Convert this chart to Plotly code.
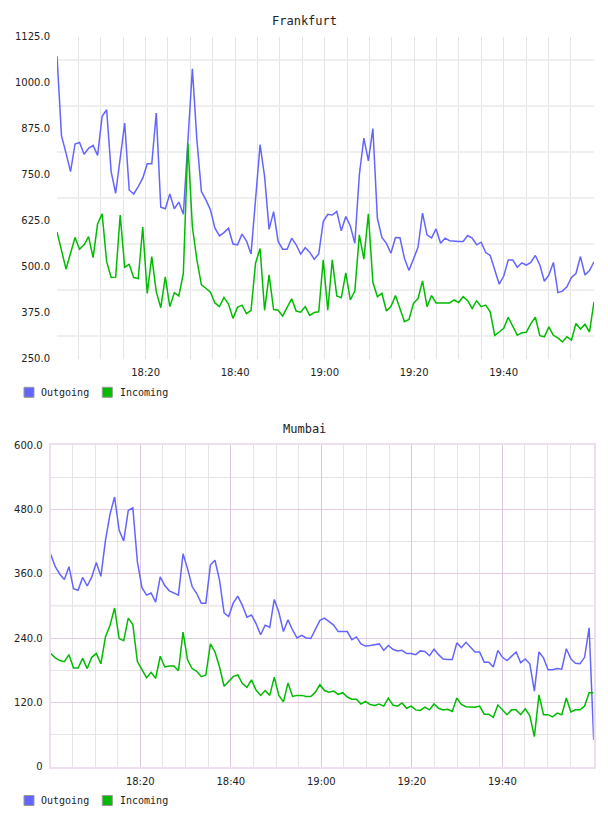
import pandas as pd
import plotly.graph_objects as go

# ---- data -------------------------------------------------------------
times = pd.date_range(start="2024-01-01 18:00:12", periods=120, freq="60500ms")

fra_outgoing = [1071, 855, 808, 758, 833, 837, 805, 821, 829, 802,
                908, 926, 758, 699, 794, 890, 708, 697, 717, 740,
                779, 779, 917, 661, 657, 697, 657, 675, 642, 830,
                1037, 844, 704, 681, 654, 604, 583, 592, 604, 561,
                559, 588, 569, 534, 672, 831, 745, 601, 649, 568,
                547, 547, 577, 559, 534, 551, 539, 520, 534, 622,
                642, 640, 650, 597, 636, 610, 563, 749, 849, 787,
                875, 631, 579, 563, 536, 579, 578, 522, 489, 522,
                552, 645, 586, 578, 602, 563, 577, 570, 568, 568,
                568, 584, 577, 559, 566, 538, 530, 493, 452, 474,
                518, 518, 498, 510, 504, 511, 530, 504, 460, 477,
                511, 429, 433, 445, 470, 481, 527, 477, 489, 513]
fra_incoming = [594, 545, 493, 536, 579, 547, 559, 581, 524, 616,
                643, 513, 470, 471, 640, 498, 506, 470, 467, 607,
                427, 527, 431, 388, 472, 391, 429, 420, 481, 835,
                608, 518, 450, 441, 430, 401, 391, 416, 398, 359,
                389, 395, 372, 381, 509, 549, 381, 477, 383, 381,
                365, 389, 412, 379, 376, 391, 367, 375, 377, 518,
                381, 518, 420, 415, 483, 409, 433, 586, 520, 643,
                457, 418, 427, 379, 391, 421, 386, 350, 356, 400,
                413, 461, 391, 421, 401, 401, 401, 401, 409, 402,
                418, 407, 386, 407, 391, 395, 377, 313, 322, 332,
                362, 336, 313, 320, 321, 345, 362, 312, 309, 336,
                313, 306, 295, 309, 300, 345, 330, 343, 322, 404]
mum_outgoing = [396, 373, 359, 349, 373, 332, 329, 353, 337, 354,
                381, 355, 422, 471, 503, 441, 421, 478, 483, 382,
                334, 320, 324, 307, 354, 338, 328, 324, 320, 397,
                369, 336, 323, 305, 305, 376, 385, 348, 287, 280,
                305, 318, 301, 279, 283, 267, 246, 264, 260, 312,
                288, 252, 274, 255, 240, 245, 240, 239, 256, 273,
                277, 270, 264, 252, 252, 252, 237, 242, 229, 225,
                226, 227, 229, 217, 226, 219, 216, 217, 211, 211,
                209, 216, 215, 207, 219, 209, 201, 200, 200, 231,
                222, 232, 223, 214, 214, 195, 195, 186, 217, 204,
                198, 207, 214, 194, 201, 192, 141, 214, 203, 181,
                181, 183, 182, 220, 201, 193, 192, 204, 259, 50]
mum_incoming = [211, 203, 198, 196, 209, 184, 184, 202, 183, 204,
                211, 192, 242, 264, 296, 239, 235, 277, 265, 196,
                181, 166, 176, 165, 206, 186, 188, 188, 179, 251,
                199, 183, 178, 168, 171, 229, 214, 186, 150, 160,
                168, 171, 155, 148, 162, 143, 133, 142, 133, 167,
                133, 121, 156, 131, 133, 133, 131, 131, 139, 153,
                142, 139, 141, 135, 138, 130, 126, 126, 117, 122,
                116, 114, 117, 113, 128, 115, 113, 119, 109, 113,
                106, 105, 111, 106, 117, 109, 106, 107, 103, 128,
                116, 112, 112, 111, 113, 98, 98, 92, 115, 106,
                97, 106, 106, 97, 108, 95, 56, 134, 97, 97,
                93, 100, 97, 128, 102, 106, 106, 113, 138, 138]

titles = ["Frankfurt", "Mumbai"]
series_names = ["Outgoing", "Incoming"]
x_tick_labels = ["18:20", "18:40", "19:00", "19:20", "19:40"]
fra_y_ticks = [250, 375, 500, 625, 750, 875, 1000, 1125]
fra_y_ticktext = ["250.0", "375.0", "500.0", "625.0", "750.0", "875.0", "1000.0", "1125.0"]
fra_y_minor = [312.5, 437.5, 562.5, 687.5, 812.5, 937.5, 1062.5]
mum_y_ticks = [0, 120, 240, 360, 480, 600]
mum_y_ticktext = ["0", "120.0", "240.0", "360.0", "480.0", "600.0"]
mum_y_minor = [60, 180, 420, 540]

# ---- styling ----------------------------------------------------------
W, H = 608, 816
BLUE = "#6464ff"
GREEN = "#00bb00"
TICKFONT = dict(family="DejaVu Sans", size=10, color="#222222")
MONO = "DejaVu Sans Mono"


def px(x):
    return x / W


def py(y):
    return 1 - y / H


day = "2024-01-01 "
x_major = [pd.Timestamp(day + t) for t in x_tick_labels]
x_minor = [t for t in pd.date_range(day + "18:05", day + "19:55", freq="5min")
           if t not in x_major]
x_range = [times[0], times[-1]]

fig = go.Figure()
fig.add_trace(go.Scatter(x=times, y=fra_outgoing, mode="lines", name=series_names[0],
                         line=dict(color=BLUE, width=1.5), xaxis="x", yaxis="y"))
fig.add_trace(go.Scatter(x=times, y=fra_incoming, mode="lines", name=series_names[1],
                         line=dict(color=GREEN, width=1.5), xaxis="x", yaxis="y"))
fig.add_trace(go.Scatter(x=times, y=mum_outgoing, mode="lines", name=series_names[0],
                         line=dict(color=BLUE, width=1.5), xaxis="x2", yaxis="y2"))
fig.add_trace(go.Scatter(x=times, y=mum_incoming, mode="lines", name=series_names[1],
                         line=dict(color=GREEN, width=1.5), xaxis="x2", yaxis="y2"))

common_x = dict(type="date", range=x_range, tickvals=x_major, ticktext=x_tick_labels,
                tickfont=TICKFONT, ticks="outside", ticklen=4,
                tickcolor="rgba(0,0,0,0)", zeroline=False, fixedrange=True,
                automargin=False)
common_y = dict(tickfont=TICKFONT, ticks="outside", ticklen=4,
                tickcolor="rgba(0,0,0,0)", zeroline=False, fixedrange=True,
                automargin=False)

fig.update_layout(
    width=W, height=H,
    margin=dict(l=0, r=0, t=0, b=0, pad=0),
    paper_bgcolor="white", plot_bgcolor="white",
    showlegend=False,
    xaxis=dict(domain=[px(57), px(594)], anchor="y", showgrid=True,
               gridcolor="#e4e4e4", gridwidth=1,
               minor=dict(tickvals=x_minor, showgrid=True, gridcolor="#e4e4e4",
                          gridwidth=1, ticks=""),
               **common_x),
    yaxis=dict(domain=[py(358.5), py(36.5)], anchor="x", range=[250, 1125],
               tickvals=fra_y_ticks, ticktext=fra_y_ticktext, showgrid=False,
               minor=dict(tickvals=fra_y_minor, showgrid=True, gridcolor="#efefef",
                          gridwidth=2, ticks=""),
               **common_y),
    xaxis2=dict(domain=[px(50.7), px(593.7)], anchor="y2", showgrid=True,
                gridcolor="#dcc6dc", gridwidth=1,
                showline=True, mirror=True, linecolor="#eddfed", linewidth=2,
                minor=dict(tickvals=x_minor, showgrid=True, gridcolor="#e6e3e6",
                           gridwidth=1, ticks=""),
                **common_x),
    yaxis2=dict(domain=[py(766.7), py(445)], anchor="x2", range=[0, 600],
                tickvals=mum_y_ticks, ticktext=mum_y_ticktext, showgrid=True,
                gridcolor="#e2cae2", gridwidth=1,
                showline=True, mirror=True, linecolor="#eddfed", linewidth=2,
                minor=dict(tickvals=mum_y_minor, showgrid=True, gridcolor="#e6e3e6",
                           gridwidth=1, ticks=""),
                **common_y),
)

# thicker mid line at 300 in the Mumbai chart
fig.add_shape(type="line", xref="x2 domain", yref="y2", x0=0, x1=1, y0=300, y1=300,
              line=dict(color="#ececec", width=2), layer="below")

# titles
for title, yc in zip(titles, [20.5, 428.7]):
    fig.add_annotation(text=title, xref="paper", yref="paper", x=px(304), y=py(yc),
                       xanchor="center", yanchor="middle", showarrow=False,
                       font=dict(family=MONO, size=12, color="#222222"))

# legends (boxes + labels)
for yc in [392.3, 800.5]:
    for (bx, color, label, tx) in [(24, BLUE, series_names[0], 39),
                                   (102.3, GREEN, series_names[1], 118)]:
        fig.add_shape(type="rect", xref="paper", yref="paper",
                      x0=px(bx), x1=px(bx + 10), y0=py(yc + 5), y1=py(yc - 5),
                      fillcolor=color, line=dict(color="#999999", width=1))
        fig.add_annotation(text=label, xref="paper", yref="paper", x=px(tx), y=py(yc),
                           xanchor="left", yanchor="middle", showarrow=False,
                           font=dict(family=MONO, size=10, color="#222222"))

fig.write_html("out.html")
